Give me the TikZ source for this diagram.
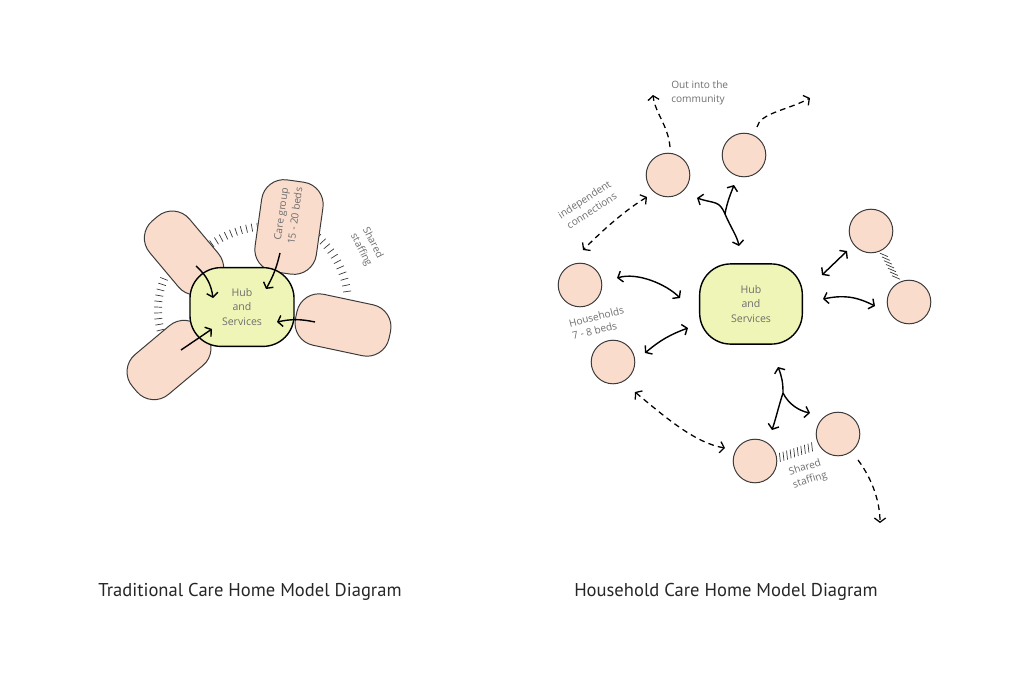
\documentclass[tikz,border=0pt]{standalone}
\usepackage{fontspec}
\setmainfont{PT Sans}
\newfontfamily\handfont{Open Sans}
\usetikzlibrary{arrows.meta,calc,positioning}
\definecolor{lobepink}{HTML}{FADCCC}
\definecolor{hubgreen}{HTML}{EFF5B6}
\definecolor{penline}{HTML}{3A3A3A}
\definecolor{notegray}{HTML}{6E6E6E}
\begin{document}
\begin{tikzpicture}[x=0.025cm,y=-0.025cm,>={Straight Barb[length=3pt,width=8pt]}] % 1 unit = 1 px
\tikzstyle{lobe} = [rectangle, rounded corners=16pt, draw=penline, fill=lobepink, line width=0.7pt, minimum width=64pt, minimum height=37pt] % care group
\tikzstyle{house} = [circle, draw=penline, fill=lobepink, line width=0.7pt, minimum size=31pt, inner sep=0pt] % household
\tikzstyle{hub} = [rectangle, rounded corners=22pt, draw=black, fill=hubgreen, line width=1pt, minimum width=74pt, minimum height=56pt, align=center, text=notegray, font=\handfont\fontsize{7.5}{10}\selectfont]
\tikzstyle{note} = [text=notegray, inner sep=0pt, font=\handfont\fontsize{7.2}{9.5}\selectfont] % handwritten labels
\tikzstyle{link} = [line width=1pt] % solid arrows
\tikzstyle{walk} = [line width=0.9pt, dash pattern=on 4pt off 3pt] % dashed arrows
\tikzstyle{tick} = [line width=0.5pt, penline] % shared staffing
\tikzstyle{title} = [font=\fontsize{13.2}{15}\selectfont, text=black!85]

\useasboundingbox (0,0) rectangle (1024,685);

% ---------- traditional model ----------
\foreach \a in {233,236,...,263} \draw[tick] (270,330) ++(\a:100) -- ++(\a:8);
\foreach \a in {312,316,...,352} \draw[tick] (258,304) ++(\a:86) -- ++(\a:8);
\foreach \a in {166,170,...,202} \draw[tick] (241,310) ++(\a:79) -- ++(\a:8);

\node[lobe, rotate=-50] (ul) at (184,253) {};
\node[lobe, rotate=82, minimum width=66pt, minimum height=44pt] (top) at (289,227) {};
\node[lobe, rotate=-12, minimum width=68pt] (rt) at (343,325) {};
\node[lobe, rotate=40] (ll) at (169,360) {};
\node[hub] (hubL) at (242,307) {Hub\\and\\Services};

\node[note, rotate=82, align=center, font=\handfont\fontsize{7.2}{10}\selectfont] (careText) at (288,215) {Care group\\15 - 20 beds};
\node[note, rotate=-63, align=left] (staffL) at (367,247) {Shared\\staffing};

\draw[link, ->] ($(ul)+(12,13)$) to[bend left=20] ($(hubL)+(-29,-9)$);
\draw[link, ->] ($(top)+(-9,26)$) to[bend left=8] ($(hubL)+(24,-18)$);
\draw[link, ->] ($(rt)+(-28,-3)$) to[bend right=12] ($(hubL)+(35,15)$);
\draw[link, ->] ($(ll)+(12,-10)$) -- ($(hubL)+(-30,22)$);

% ---------- household model ----------
\foreach \t in {0.34,0.393,...,0.66} \draw[tick] ($(871,231)!\t!(909,302)+(-4,-2)$) -- ++(8,3.5);
\foreach \t in {0.30,0.343,...,0.70} \draw[tick] ($(755,461)!\t!(838,434)+(-0.5,0)$) -- ++(1,9);

\node[hub, minimum height=57pt, minimum width=73pt] (hubR) at (751,304) {Hub\\and\\Services};
\node[house] (A) at (668,175) {};
\node[house] (B) at (744,155) {};
\node[house] (C) at (580,285) {};
\node[house] (D) at (613,362) {};
\node[house] (E) at (871,231) {};
\node[house] (F) at (909,302) {};
\node[house] (G) at (755,461) {};
\node[house] (H) at (838,434) {};

\node[note, anchor=west, align=left] (outText) at (671,93) {Out into the\\community};
\node[note, rotate=33, align=center] (indText) at (588,205) {independent\\connections};
\node[note, rotate=14, align=left] (hhText) at (598,323) {Households\\7 - 8 beds};
\node[note, rotate=18, align=left] (staffR) at (808,474) {Shared\\staffing};

% solid links to the hub
\coordinate (forkT) at (725,214);
\draw[link, <->] ($(A)+(29,23)$) .. controls +(18,6) and +(-6,-14) .. (forkT) .. controls +(6,14) and +(-2,-10) .. ($(hubR)+(-12,-58)$);
\draw[link, ->] (forkT) .. controls +(2,-12) and +(-3,8) .. ($(B)+(-10,30)$);
\coordinate (forkB) at (783,393);
\draw[link, <->] ($(hubR)+(27,63)$) .. controls +(4,10) and +(0,-10) .. (forkB) .. controls +(-4,12) and +(4,-12) .. ($(G)+(17,-31)$);
\draw[link, ->] (forkB) .. controls +(6,12) and +(-10,-2) .. ($(H)+(-28,-21)$);
\draw[link, <->] ($(C)+(37,-7)$) .. controls +(20,-6) and +(-14,-14) .. ($(hubR)+(-71,-6)$);
\draw[link, <->] ($(D)+(32,-9)$) to[bend left=10] ($(hubR)+(-63,24)$);
\draw[link, <->] ($(hubR)+(71,-29)$) -- ($(E)+(-24,20)$);
\draw[link, <->] ($(hubR)+(72,-5)$) .. controls +(20,-4) and +(-20,-10) .. ($(F)+(-34,4)$);

% dashed links out
\draw[walk, ->] ($(A)+(2,-28)$) .. controls +(-2,-22) and +(2,18) .. ($(A)+(-15,-80)$);
\draw[walk, ->] ($(B)+(13,-28)$) .. controls +(3,-14) and +(-22,12) .. ($(B)+(66,-57)$);
\draw[walk, <->] ($(A)+(-21,22)$) .. controls +(-25,15) and +(15,-15) .. ($(C)+(3,-35)$);
\draw[walk, <->] ($(D)+(22,30)$) .. controls +(30,25) and +(-30,-5) .. ($(G)+(-30,-13)$);
\draw[walk, ->] ($(H)+(20,26)$) .. controls +(15,20) and +(0,-20) .. ($(H)+(42,89)$);

% ---------- titles ----------
\node[title] (titleL) at (250,592) {Traditional Care Home Model Diagram};
\node[title] (titleR) at (726,592) {Household Care Home Model Diagram};
\end{tikzpicture}
\end{document}
